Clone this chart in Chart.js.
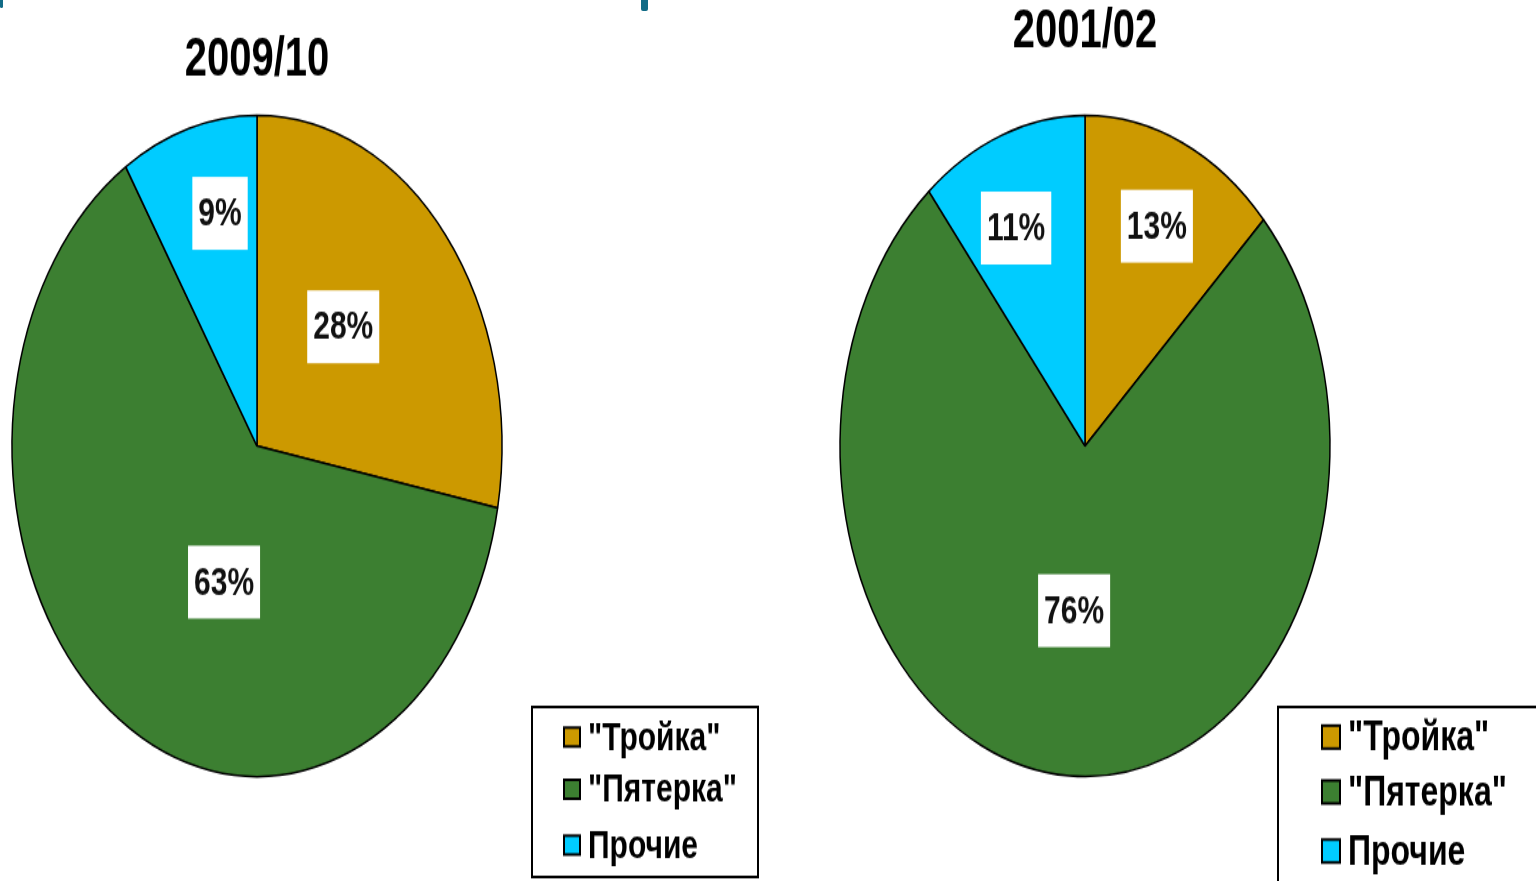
<!DOCTYPE html>
<html>
<head>
<meta charset="utf-8">
<script src="https://cdn.jsdelivr.net/npm/chart.js@4"></script>
<style>
  html, body { margin: 0; padding: 0; background: #fff; overflow: hidden; }
  #page { position: relative; width: 1536px; height: 881px; }
  canvas { position: absolute; top: 0; }
  .tick { position: absolute; top: 0; background: #116b86; border-radius: 0 0 2px 2px; }
</style>
</head>
<body>
<div id="page">
  <div class="tick" style="left:0;width:3px;height:8px"></div>
  <div class="tick" style="left:641px;width:7px;height:11px"></div>
  <!-- drawn at 768x653 and stretched to 881px tall, like the squashed original -->
  <canvas id="pieLeft" width="768" height="653" style="left:0;width:768px;height:881px"></canvas>
  <canvas id="pieRight" width="768" height="653" style="left:768px;width:768px;height:881px"></canvas>
</div>
<script>
const categories = ['"Тройка"', '"Пятерка"', 'Прочие'];
const periods = ['2009/10', '2001/02'];
const share200910 = [28, 63, 9];
const share200102 = [13, 76, 11];
const sliceColors = ['#cc9900', '#3c7f31', '#00ccff'];

Chart.defaults.font.family = '"Liberation Sans", Arial, sans-serif';
Chart.defaults.color = '#000';

// white boxes with the percent values
const pctLabels = {
  id: 'pctLabels',
  afterDatasetsDraw(chart, args, opts) {
    const { ctx } = chart;
    const meta = chart.getDatasetMeta(0);
    const values = chart.data.datasets[0].data;
    ctx.save();
    ctx.font = opts.font;
    ctx.textAlign = 'center';
    ctx.textBaseline = 'middle';
    meta.data.forEach((arc, i) => {
      const { x, y, startAngle, endAngle, outerRadius } =
        arc.getProps(['x', 'y', 'startAngle', 'endAngle', 'outerRadius'], true);
      const a = (startAngle + endAngle) / 2 + opts.shift[i] * Math.PI / 180;
      const r = outerRadius * opts.frac[i];
      const cx = x + Math.cos(a) * r;
      const cy = y + Math.sin(a) * r;
      const text = values[i] + '%';
      const w = ctx.measureText(text).width + 12;
      const h = 54;
      ctx.fillStyle = '#fff';
      ctx.fillRect(cx - w / 2, cy - h / 2, w, h);
      ctx.fillStyle = '#111';
      ctx.fillText(text, cx, cy + 1);
    });
    ctx.restore();
  }
};

// framed legend in the lower right corner
const boxLegend = {
  id: 'boxLegend',
  afterDraw(chart, args, opts) {
    const { ctx } = chart;
    const ds = chart.data.datasets[0];
    ctx.save();
    ctx.strokeStyle = '#000';
    ctx.lineWidth = 2;
    ctx.strokeRect(opts.box[0], opts.box[1], opts.box[2], opts.box[3]);
    ctx.font = opts.font;
    ctx.textBaseline = 'middle';
    chart.data.labels.forEach((label, i) => {
      const y = opts.rows[i];
      ctx.fillStyle = ds.backgroundColor[i];
      ctx.fillRect(opts.markX, y - opts.mark[1] / 2, opts.mark[0], opts.mark[1]);
      ctx.lineWidth = 2;
      ctx.strokeRect(opts.markX, y - opts.mark[1] / 2, opts.mark[0], opts.mark[1]);
      ctx.fillStyle = '#000';
      ctx.fillText(label, opts.textX, y + 1);
    });
    ctx.restore();
  }
};

function makePie(id, title, values, cfg) {
  return new Chart(document.getElementById(id), {
    type: 'pie',
    data: {
      labels: categories,
      datasets: [{
        data: values,
        backgroundColor: sliceColors,
        borderColor: '#000',
        borderWidth: 1.5,
        clip: false
      }]
    },
    options: {
      responsive: false,
      animation: false,
      radius: 245,
      layout: { padding: cfg.padding },
      plugins: {
        legend: { display: false },
        tooltip: { enabled: false },
        title: {
          display: true,
          text: title,
          color: '#000',
          font: { size: 40, weight: 'bold' },
          padding: cfg.titlePad
        },
        pctLabels: cfg.labels,
        boxLegend: cfg.legend
      }
    },
    plugins: [pctLabels, boxLegend]
  });
}

makePie('pieLeft', periods[0], share200910, {
  padding: { left: 12, right: 266, top: 0, bottom: 77 },
  titlePad: { top: 20.5, bottom: 16.7 },
  labels: {
    font: 'bold 30px "Liberation Sans Narrow", "Liberation Sans", Arial',
    frac: [0.504, 0.433, 0.72],
    shift: [-6.1, -16.1, 4.1]
  },
  legend: {
    box: [532, 524, 226, 126],
    markX: 564, mark: [16, 14], textX: 588,
    rows: [546.3, 585, 626.4],
    font: 'bold 30px "Liberation Sans", Arial'
  }
});

makePie('pieRight', periods[1], share200102, {
  padding: { left: 72, right: 206, top: 0, bottom: 77.4 },
  titlePad: { top: 0, bottom: 37.6 },
  labels: {
    font: 'bold 30px "Liberation Sans Narrow", "Liberation Sans", Arial',
    frac: [0.727, 0.5, 0.717],
    shift: [0.4, 1.5, -3.3]
  },
  legend: {
    box: [510, 524, 300, 200],
    markX: 554, mark: [18, 17], textX: 580,
    rows: [546.3, 587, 630.8],
    font: 'bold 32px "Liberation Sans", Arial'
  }
});
</script>
</body>
</html>
